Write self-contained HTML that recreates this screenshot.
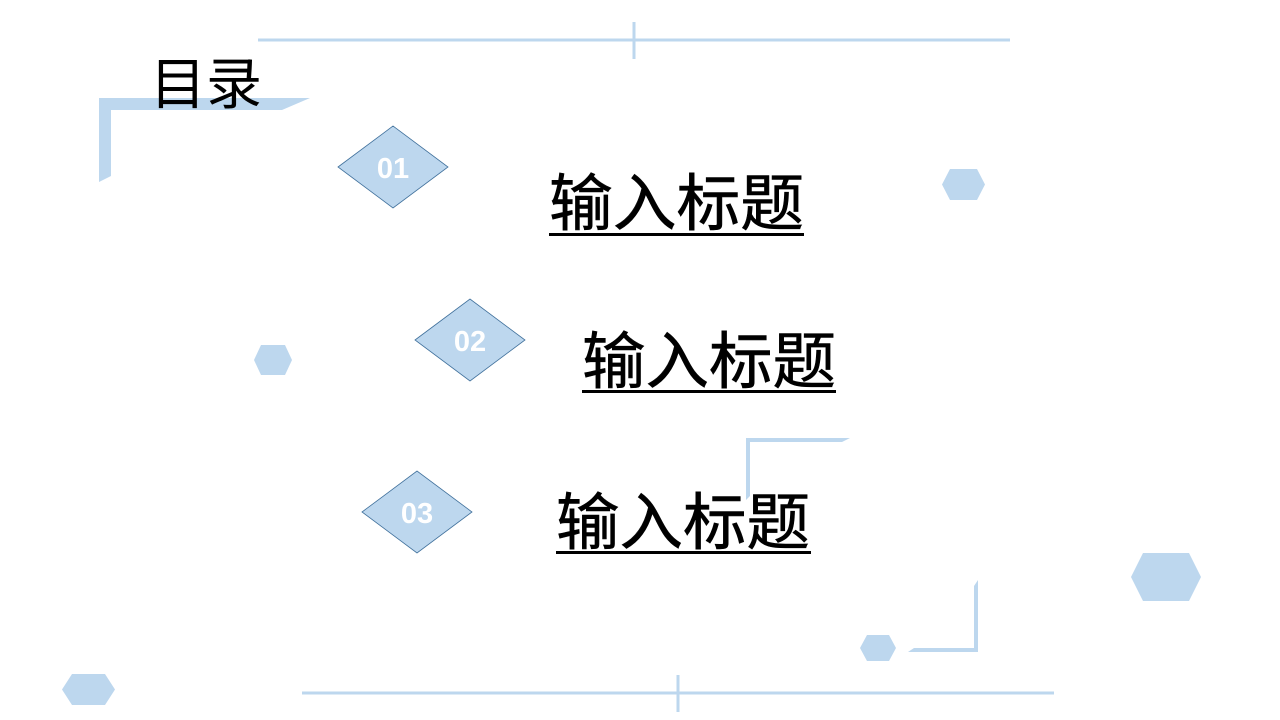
<!DOCTYPE html>
<html><head><meta charset="utf-8"><style>html,body{margin:0;padding:0;background:#fff}svg{display:block}</style></head>
<body>
<svg width="1280" height="720" viewBox="0 0 1280 720" xmlns="http://www.w3.org/2000/svg">
<g fill="#bdd7ee">
<rect x="258" y="38.5" width="752" height="3"/>
<rect x="632.5" y="22" width="3" height="37"/>
<rect x="302" y="691.5" width="752" height="3"/>
<rect x="676.5" y="675" width="3" height="37"/>
<polygon points="99,98 310,98 282,110 111,110 111,176 99,182"/>
<polygon points="746,438 850,438 842,442 750,442 750,496 746,500"/>
<polygon points="978,580 978,652 908,652 914,648 974,648 974,586"/>
<polygon points="942,184.5 950,169 977,169 985,184.5 977,200 950,200"/>
<polygon points="254,360 261,345 285,345 292,360 285,375 261,375"/>
<polygon points="1131,577 1143,553 1189,553 1201,577 1189,601 1143,601"/>
<polygon points="860,648 867,635 889,635 896,648 889,661 867,661"/>
<polygon points="62,689.5 72,674 105,674 115,689.5 105,705 72,705"/>
</g>
<g fill="#bdd7ee" stroke="#41719c" stroke-width="0.8">
<polygon points="338,167 393,126 448,167 393,208"/>
<polygon points="415,340 470,299 525,340 470,381"/>
<polygon points="362,512 417,471 472,512 417,553"/>
</g>
<g fill="#fff" font-family="Liberation Sans, sans-serif" font-size="29" font-weight="bold" text-anchor="middle">
<text x="393" y="178">01</text>
<text x="470" y="351">02</text>
<text x="417" y="523">03</text>
</g>
<g font-family="Liberation Sans, 'Noto Sans CJK SC', sans-serif" fill="#000">
<text x="150" y="104" font-size="56">目录</text>
<g stroke="#000" stroke-width="0.6">
<text x="549" y="225" font-size="62" textLength="255" lengthAdjust="spacingAndGlyphs">输入标题</text>
<text x="582" y="383" font-size="62" textLength="254" lengthAdjust="spacingAndGlyphs">输入标题</text>
<text x="556" y="544" font-size="62" textLength="254" lengthAdjust="spacingAndGlyphs">输入标题</text>
</g>
</g>
<g fill="#000">
<rect x="549" y="233" width="255" height="3"/>
<rect x="582" y="390" width="254" height="3"/>
<rect x="556" y="551" width="255" height="3"/>
</g>
</svg>
</body></html>
